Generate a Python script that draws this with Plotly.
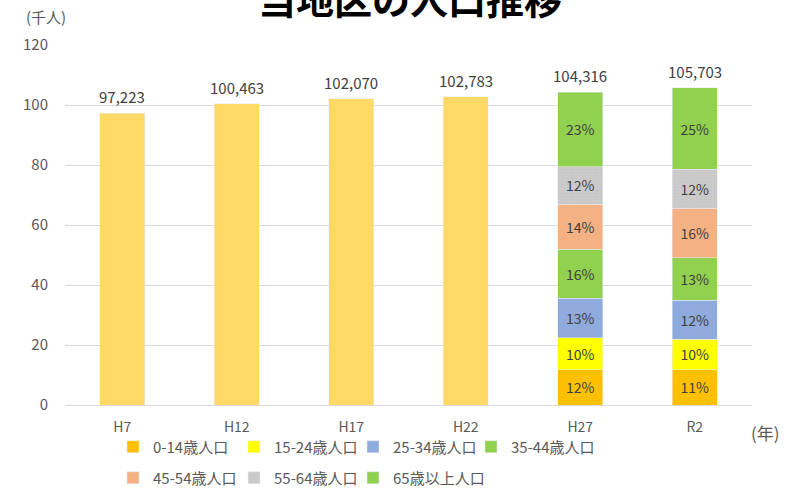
import plotly.graph_objects as go

categories = ["H7", "H12", "H17", "H22", "H27", "R2"]
totals = [97.223, 100.463, 102.070, 102.783, 104.316, 105.703]
total_labels = ["97,223", "100,463", "102,070", "102,783", "104,316", "105,703"]

early_cats = ["H7", "H12", "H17", "H22"]
early_vals = [97.223, 100.463, 102.070, 102.783]

age_cats = ["H27", "R2"]
age_groups = ["0-14歳人口", "15-24歳人口", "25-34歳人口", "35-44歳人口",
              "45-54歳人口", "55-64歳人口", "65歳以上人口"]
age_vals = [
    [11.7, 11.7],
    [10.7, 10.3],
    [13.2, 13.0],
    [16.4, 14.1],
    [15.0, 16.5],
    [12.4, 13.0],
    [24.9, 27.1],
]
age_pct = [
    ["12%", "11%"],
    ["10%", "10%"],
    ["13%", "12%"],
    ["16%", "13%"],
    ["14%", "16%"],
    ["12%", "12%"],
    ["23%", "25%"],
]
colors = ["#FFC000", "#FFFF00", "#8FAADC", "#92D050", "#F4B183", "#C9C9C9", "#92D050"]

FONT = "Noto Sans CJK JP"
GRAY = "#595959"
BW = 0.39

# legend item text-start positions (px) and row centres (container fraction)
legend_text_x = [153, 274, 393, 511, 153, 274, 393]
legend_row_y = [0.0878, 0.0878, 0.0878, 0.0878, 0.0245, 0.0245, 0.0245]

fig = go.Figure()
fig.add_trace(go.Bar(x=early_cats, y=early_vals, marker_color="#FFD966",
                     width=BW, showlegend=False, hoverinfo="skip"))
legend_layout = {}
for i, name in enumerate(age_groups):
    marker = dict(color=colors[i])
    if i == 5:
        marker["pattern"] = dict(shape=".", bgcolor="#CBCBCB", fgcolor="#BDBDBD",
                                 size=3, solidity=0.25)
    lg = "legend" if i == 0 else f"legend{i + 1}"
    fig.add_trace(go.Bar(
        x=age_cats, y=age_vals[i], name=name, marker=marker, width=BW,
        text=age_pct[i], textposition="inside", insidetextanchor="middle",
        textangle=0, textfont=dict(color="#404040", size=14, family=FONT),
        legend=lg,
    ))
    legend_layout[lg] = dict(
        orientation="h", xanchor="left", yanchor="middle",
        xref="container", yref="container",
        x=(legend_text_x[i] - 40) / 786, y=legend_row_y[i],
        font=dict(size=15, color=GRAY, family=FONT),
        bgcolor="rgba(0,0,0,0)",
    )

annotations = [
    dict(text=lbl, x=c, y=t, xref="x", yref="y", xanchor="center", yanchor="bottom",
         yshift=4, showarrow=False, font=dict(size=15, color="#404040", family=FONT))
    for c, t, lbl in zip(categories, totals, total_labels)
]
annotations += [
    dict(text="(千人)", xref="paper", yref="paper", x=-0.0277, y=1.08,
         xanchor="center", yanchor="middle", showarrow=False,
         font=dict(size=15, color=GRAY, family=FONT)),
    dict(text="(年)", xref="paper", yref="paper", x=1.0437, y=-0.075,
         xanchor="right", yanchor="middle", showarrow=False,
         font=dict(size=17, color=GRAY, family=FONT)),
    dict(text="<b>当地区の人口推移</b>", xref="paper", yref="paper", x=0.502, y=1.1333,
         xanchor="center", yanchor="middle", showarrow=False,
         font=dict(size=38, color="black", family=FONT)),
]

fig.update_layout(
    width=786, height=490,
    margin=dict(l=65, r=34, t=45, b=85),
    barmode="stack",
    plot_bgcolor="white", paper_bgcolor="white",
    font=dict(family=FONT, color=GRAY),
    uniformtext=dict(minsize=12, mode="show"),
    xaxis=dict(showgrid=False, showline=False, ticks="", automargin=False,
               ticklabelstandoff=12,
               tickfont=dict(size=14, color=GRAY, family=FONT)),
    yaxis=dict(range=[0, 120], dtick=20, showgrid=True, gridcolor="#D9D9D9",
               gridwidth=1, zeroline=True, zerolinecolor="#D9D9D9", zerolinewidth=1,
               tickfont=dict(size=15, color=GRAY, family=FONT), ticks="",
               ticklabelstandoff=16, automargin=False),
    annotations=annotations,
    **legend_layout,
)

fig.write_html("out.html", config={"displayModeBar": False},
               post_script="document.body.style.margin='0';")
